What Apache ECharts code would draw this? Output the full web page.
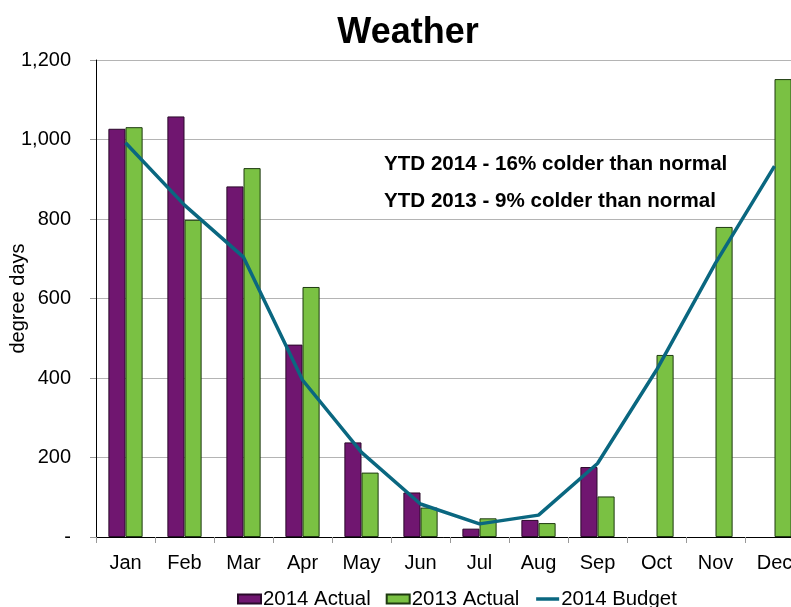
<!DOCTYPE html>
<html>
<head>
<meta charset="utf-8">
<script src="https://cdn.jsdelivr.net/npm/echarts@6/dist/echarts.min.js"></script>
<style>
html,body{margin:0;padding:0;background:#fff;}
#chart{width:791px;height:607px;}
</style>
</head>
<body>
<div id="chart"></div>
<script>
const months = ['Jan','Feb','Mar','Apr','May','Jun','Jul','Aug','Sep','Oct','Nov','Dec'];
const actual2014 = [1027, 1058, 882, 484, 238, 112, 21, 43, 176, null, null, null];
const actual2013 = [1031, 798, 928, 629, 162, 74, 47, 35, 102, 458, 780, 1152];
const budget2014 = [992, 835, 704, 395, 213, 83, 33, 55, 185, 420, 689, 933];
const yTicks = [0, 200, 400, 600, 800, 1000, 1200];
const notes = ['YTD 2014 - 16% colder than normal', 'YTD 2013 - 9% colder than normal'];

const FONT = 'Liberation Sans, Arial, sans-serif';
const chart = echarts.init(document.getElementById('chart'), null, {renderer: 'canvas'});
chart.setOption({
  backgroundColor: '#fff',
  animation: false,
  textStyle: {fontFamily: FONT, color: '#000'},
  title: [
    {text: 'Weather', left: 408, top: 15, textAlign: 'center', padding: 0,
     textStyle: {fontFamily: FONT, fontSize: 36, fontWeight: 'bold', color: '#000'}},
    {text: notes[0], left: 384, top: 154, padding: 0,
     textStyle: {fontFamily: FONT, fontSize: 20.6, fontWeight: 'bold', color: '#000'}},
    {text: notes[1], left: 384, top: 191, padding: 0,
     textStyle: {fontFamily: FONT, fontSize: 20.6, fontWeight: 'bold', color: '#000'}}
  ],
  legend: {
    left: 237, top: 589, padding: 0,
    itemWidth: 23, itemHeight: 9, itemGap: 15,
    textStyle: {fontFamily: FONT, fontSize: 20.4, color: '#000', padding: [0,0,0,-3]},
    data: [
      {name: '2014 Actual', icon: 'rect'},
      {name: '2013 Actual', icon: 'rect'},
      {name: '2014 Budget', itemStyle: {opacity: 0}, lineStyle: {color: '#0A6780', width: 3.5, opacity: 1}}
    ]
  },
  grid: {left: 96, right: -13, top: 60, bottom: 70, containLabel: false, outerBoundsMode: 'none'},
  xAxis: {
    type: 'category', data: months,
    axisLine: {lineStyle: {color: '#000', width: 1}},
    axisTick: {show: true, length: 6, alignWithLabel: false, lineStyle: {color: '#999'}},
    axisLabel: {fontFamily: FONT, fontSize: 20, color: '#000', margin: 16}
  },
  yAxis: {
    type: 'value', min: yTicks[0], max: yTicks[yTicks.length-1], interval: 200,
    name: 'degree days', nameLocation: 'middle', nameGap: 78, nameRotate: 90, nameMoveOverlap: false,
    nameTextStyle: {fontFamily: FONT, fontSize: 20, color: '#000', verticalAlign: 'middle'},
    axisLine: {show: true, lineStyle: {color: '#000', width: 1}},
    axisTick: {show: true, length: 6, lineStyle: {color: '#999'}},
    splitLine: {lineStyle: {color: '#b4b4b4', width: 1}},
    axisLabel: {fontFamily: FONT, fontSize: 20, color: '#000', margin: 25,
      formatter: v => v === 0 ? '-' : v.toLocaleString('en-US')}
  },
  series: [
    {name: '2014 Actual', type: 'bar', data: actual2014, barGap: '0%', barCategoryGap: '42%',
     itemStyle: {color: '#701670', borderColor: '#2a0a2a', borderWidth: 1}},
    {name: '2013 Actual', type: 'bar', data: actual2013, barGap: '0%', barCategoryGap: '42%',
     itemStyle: {color: '#7AC143', borderColor: '#1e3a10', borderWidth: 1}},
    {name: '2014 Budget', type: 'line', data: budget2014, symbol: 'none', showSymbol: false,
     lineStyle: {color: '#0A6780', width: 3.5}, itemStyle: {color: '#0A6780'}, z: 5}
  ]
});
</script>
</body>
</html>
